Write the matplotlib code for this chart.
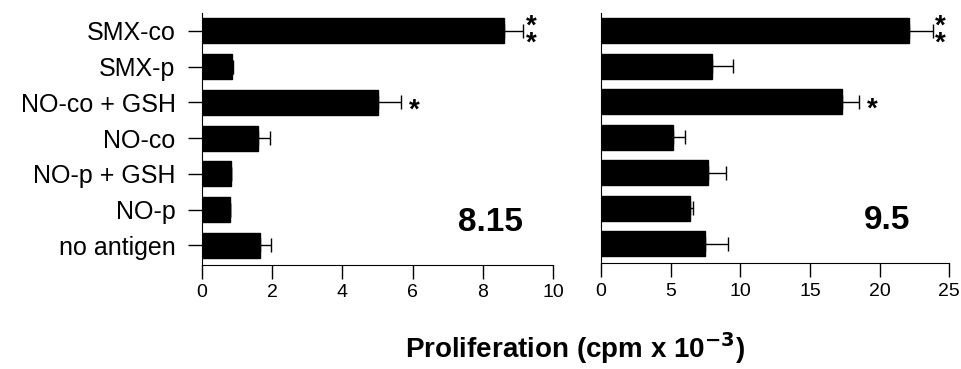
import matplotlib
matplotlib.use("Agg")
import matplotlib.pyplot as plt

plt.rcParams['font.family'] = ['Liberation Sans', 'DejaVu Sans']

# data (cpm x 10^-3), top to bottom
categories = ["SMX-co", "SMX-p", "NO-co + GSH", "NO-co", "NO-p + GSH", "NO-p", "no antigen"]

clone_815 = [8.6, 0.84, 5.0, 1.6, 0.82, 0.81, 1.66]
err_815 = [0.55, 0.05, 0.66, 0.34, 0.0, 0.0, 0.3]
stars_815 = ["**", "", "*", "", "", "", ""]

clone_95 = [22.1, 7.95, 17.3, 5.15, 7.65, 6.4, 7.45]
err_95 = [1.7, 1.55, 1.2, 0.88, 1.3, 0.2, 1.65]
stars_95 = ["**", "", "*", "", "", "", ""]

fig = plt.figure(figsize=(9.62, 3.69), dpi=100)
ax1 = fig.add_axes([0.210, 0.282, 0.365, 0.683])
ax2 = fig.add_axes([0.6248, 0.287, 0.362, 0.678])

ypos = list(range(len(categories)))


def draw_panel(ax, vals, errs, stars, xmax, step, name, star_off):
    ax.barh(ypos, vals, height=0.7, color='black', edgecolor='black')
    ax.errorbar(vals, ypos, xerr=[[0] * len(vals), errs], fmt='none',
                ecolor='black', elinewidth=1.0, capsize=5, capthick=1.0)
    for y, v, e, s in zip(ypos, vals, errs, stars):
        if s == "**":
            ax.text(v + e + star_off, y + 0.12, "*\n*", fontsize=20, fontweight='bold',
                    ha='left', va='center', linespacing=0.55)
        elif s == "*":
            ax.text(v + e + star_off * 3, y + 0.22, "*", fontsize=20,
                    fontweight='bold', ha='left', va='center')
    ax.set_xlim(0, xmax)
    ax.set_ylim(6.55, -0.5)
    ax.set_xticks(range(0, xmax + 1, step))
    ax.tick_params(axis='x', direction='out', length=10, width=1, labelsize=14, pad=4)
    ax.spines['top'].set_visible(False)
    ax.spines['right'].set_visible(False)
    ax.text(0.82, 0.17, name, transform=ax.transAxes, fontsize=24,
            fontweight='bold', ha='center', va='center')


draw_panel(ax1, clone_815, err_815, stars_815, 10, 2, "8.15", 0.08)
ax1.set_yticks(ypos)
ax1.set_yticklabels(categories, fontsize=18)
ax1.tick_params(axis='y', direction='out', length=10, width=1, pad=9)

draw_panel(ax2, clone_95, err_95, stars_95, 25, 5, "9.5", 0.2)
ax2.set_yticks([])

fig.text(0.598, 0.03, r"Proliferation (cpm x 10$^{\mathbf{-3}}$)", fontsize=20,
         fontweight='bold', ha='center', va='baseline')

fig.savefig("out.png", dpi=100)
